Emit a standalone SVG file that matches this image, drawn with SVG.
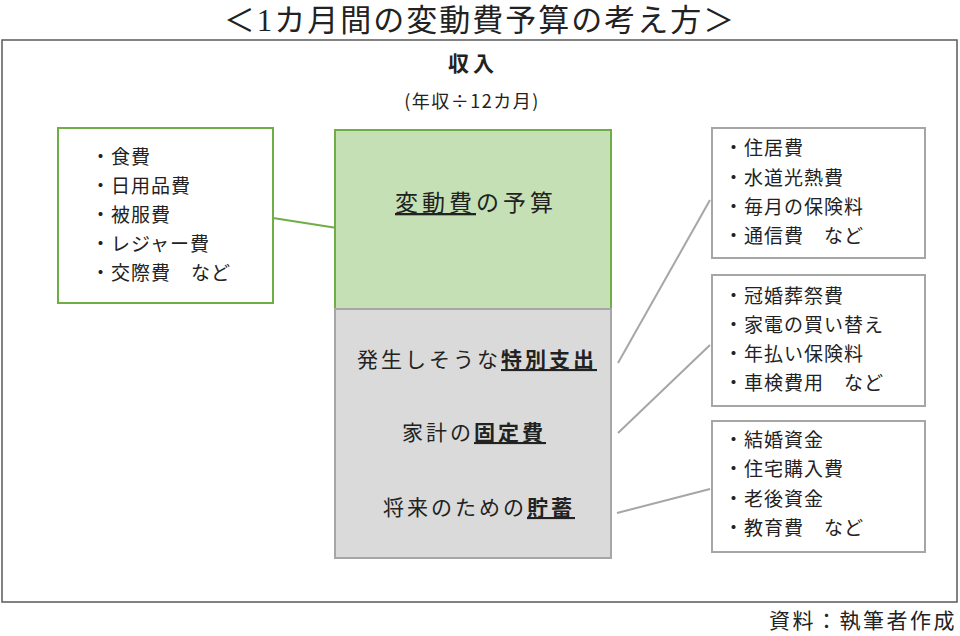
<svg xmlns="http://www.w3.org/2000/svg" width="960" height="636" viewBox="0 0 960 636">
<style>
text{font-family:"Noto Sans CJK JP","Noto Sans",sans-serif;fill:#222}
.title{font-family:"Liberation Serif","Noto Sans CJK JP",serif;font-size:31px;letter-spacing:2px}
.item{font-size:19px;letter-spacing:1px}
.big{font-size:21px;letter-spacing:3px}
.b{font-weight:bold;text-decoration:underline}
.gbox{fill:#fff;stroke:#70AD47;stroke-width:2}
.rbox{fill:#fff;stroke:#A6A6A6;stroke-width:2}
.gline{stroke:#70AD47;stroke-width:2;fill:none}
.rline{stroke:#A6A6A6;stroke-width:2;fill:none}
</style>
<rect width="960" height="636" fill="#fff"/>
<text class="title" x="480" y="31" text-anchor="middle">＜1カ月間の変動費予算の考え方＞</text>
<rect x="2" y="40" width="955" height="562" fill="none" stroke="#595959" stroke-width="1.5"/>
<g id="income">
<text x="473" y="71" text-anchor="middle" style="font-size:21px;font-weight:bold;letter-spacing:4px">収入</text>
<text x="472" y="108" text-anchor="middle" style="font-size:18px;letter-spacing:1.5px">(年収÷12カ月)</text>
</g>
<g id="connectors">
<line class="gline" x1="273" y1="218" x2="337" y2="228"/>
<line class="rline" x1="618" y1="363" x2="710" y2="200"/>
<line class="rline" x1="618" y1="433" x2="710" y2="345"/>
<line class="rline" x1="617" y1="513" x2="710" y2="489"/>
</g>
<g id="variable-items">
<rect class="gbox" x="58" y="128" width="215" height="175"/>
<text class="item" x="91" y="164">・食費</text>
<text class="item" x="91" y="193">・日用品費</text>
<text class="item" x="91" y="222">・被服費</text>
<text class="item" x="91" y="251">・レジャー費</text>
<text class="item" x="91" y="280">・交際費　など</text>
</g>
<g id="variable-budget">
<rect x="335" y="130" width="276" height="179" fill="#C5E0B4" stroke="#70AD47" stroke-width="2"/>
<text x="395" y="211" style="font-size:23px;letter-spacing:4px"><tspan text-decoration="underline">変動費</tspan>の予算</text>
</g>
<g id="other">
<rect x="335" y="309" width="276" height="249" fill="#DADADA" stroke="#A6A6A6" stroke-width="2"/>
<text class="big" x="357" y="367">発生しそうな<tspan class="b">特別支出</tspan></text>
<text class="big" x="402" y="440">家計の<tspan class="b">固定費</tspan></text>
<text class="big" x="383" y="515">将来のための<tspan class="b">貯蓄</tspan></text>
</g>
<g id="special-items">
<rect class="rbox" x="712" y="128" width="213" height="130"/>
<text class="item" x="724" y="155">・住居費</text>
<text class="item" x="724" y="185">・水道光熱費</text>
<text class="item" x="724" y="214">・毎月の保険料</text>
<text class="item" x="724" y="243">・通信費　など</text>
</g>
<g id="fixed-items">
<rect class="rbox" x="712" y="275" width="213" height="131"/>
<text class="item" x="724" y="303">・冠婚葬祭費</text>
<text class="item" x="724" y="332">・家電の買い替え</text>
<text class="item" x="724" y="361">・年払い保険料</text>
<text class="item" x="724" y="390">・車検費用　など</text>
</g>
<g id="savings-items">
<rect class="rbox" x="712" y="421" width="213" height="131"/>
<text class="item" x="724" y="447">・結婚資金</text>
<text class="item" x="724" y="476">・住宅購入費</text>
<text class="item" x="724" y="506">・老後資金</text>
<text class="item" x="724" y="535">・教育費　など</text>
</g>
<text x="957" y="628" text-anchor="end" style="font-size:21px;letter-spacing:2.5px">資料：執筆者作成</text>
</svg>
